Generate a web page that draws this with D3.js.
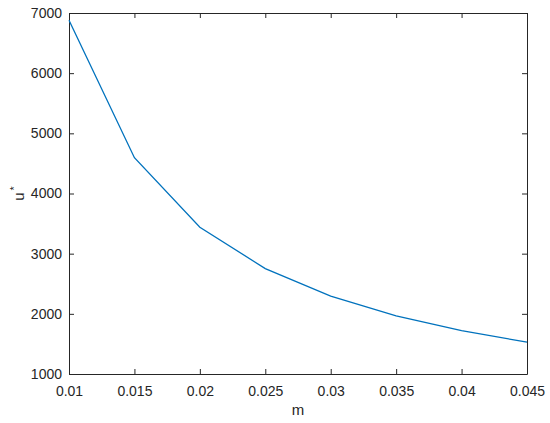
<!DOCTYPE html>
<html>
<head>
<meta charset="utf-8">
<script src="https://cdn.jsdelivr.net/npm/d3@7"></script>
<style>
body { margin: 0; background: #fff; }
text { font-family: "Liberation Sans", Arial, sans-serif; fill: #262626; }
</style>
</head>
<body>
<svg width="550" height="423"></svg>
<script>
var svg = d3.select("svg");
var line_color = "#0072BD";
var axis_color = "#262626";

// data
var m_values = [0.01, 0.015, 0.02, 0.025, 0.03, 0.035, 0.04, 0.045];
var u_values = [6880, 4595, 3440, 2752, 2293, 1966, 1720, 1530];
var x_ticks = [0.01, 0.015, 0.02, 0.025, 0.03, 0.035, 0.04, 0.045];
var y_ticks = [1000, 2000, 3000, 4000, 5000, 6000, 7000];

var plot_left = 69, plot_right = 527, plot_top = 13, plot_bottom = 374;
var tick_len = 5;

var x = d3.scaleLinear().domain([0.01, 0.045]).range([plot_left, plot_right]);
var y = d3.scaleLinear().domain([1000, 7000]).range([plot_bottom, plot_top]);

// axes with inward ticks, mirrored on top/right
function drawAxis(axis, tx, ty, withLabels) {
    var g = svg.append("g")
       .attr("transform", "translate(" + tx + "," + ty + ")")
       .call(axis);
    g.select(".domain").attr("stroke", axis_color).attr("stroke-width", 1);
    g.selectAll(".tick line").attr("stroke", axis_color).attr("stroke-width", 1);
    g.selectAll(".tick text")
     .style("font-size", "14px")
     .attr("fill", axis_color);
    if (!withLabels) g.selectAll(".tick text").remove();
    return g;
}

var fmt = function(d) { return String(+d.toFixed(3)); };

drawAxis(d3.axisBottom(x).tickValues(x_ticks).tickFormat(fmt)
            .tickSizeInner(-tick_len).tickSizeOuter(0).tickPadding(12), 0, plot_bottom, true);
drawAxis(d3.axisTop(x).tickValues(x_ticks).tickSizeInner(-tick_len).tickSizeOuter(0), 0, plot_top, false);
drawAxis(d3.axisLeft(y).tickValues(y_ticks).tickFormat(d3.format("d"))
            .tickSizeInner(-tick_len).tickSizeOuter(0).tickPadding(7), plot_left, 0, true);
drawAxis(d3.axisRight(y).tickValues(y_ticks).tickSizeInner(-tick_len).tickSizeOuter(0), plot_right, 0, false);

// the series
svg.append("path")
   .datum(m_values.map(function(d, i) { return [d, u_values[i]]; }))
   .attr("fill", "none")
   .attr("stroke", line_color)
   .attr("stroke-width", 1.3)
   .attr("d", d3.line()
       .x(function(d) { return x(d[0]); })
       .y(function(d) { return y(d[1]); }));

// axis labels
svg.append("text")
   .attr("x", (plot_left + plot_right) / 2)
   .attr("y", 415)
   .attr("text-anchor", "middle")
   .style("font-size", "15px")
   .text("m");

var ylab = svg.append("text")
   .attr("transform", "translate(24," + (plot_top + plot_bottom) / 2 + ") rotate(-90)")
   .attr("text-anchor", "middle")
   .style("font-size", "15px");
ylab.append("tspan").text("u");
ylab.append("tspan").attr("dy", -6).attr("dx", 2).style("font-size", "11px").text("*");
</script>
</body>
</html>
